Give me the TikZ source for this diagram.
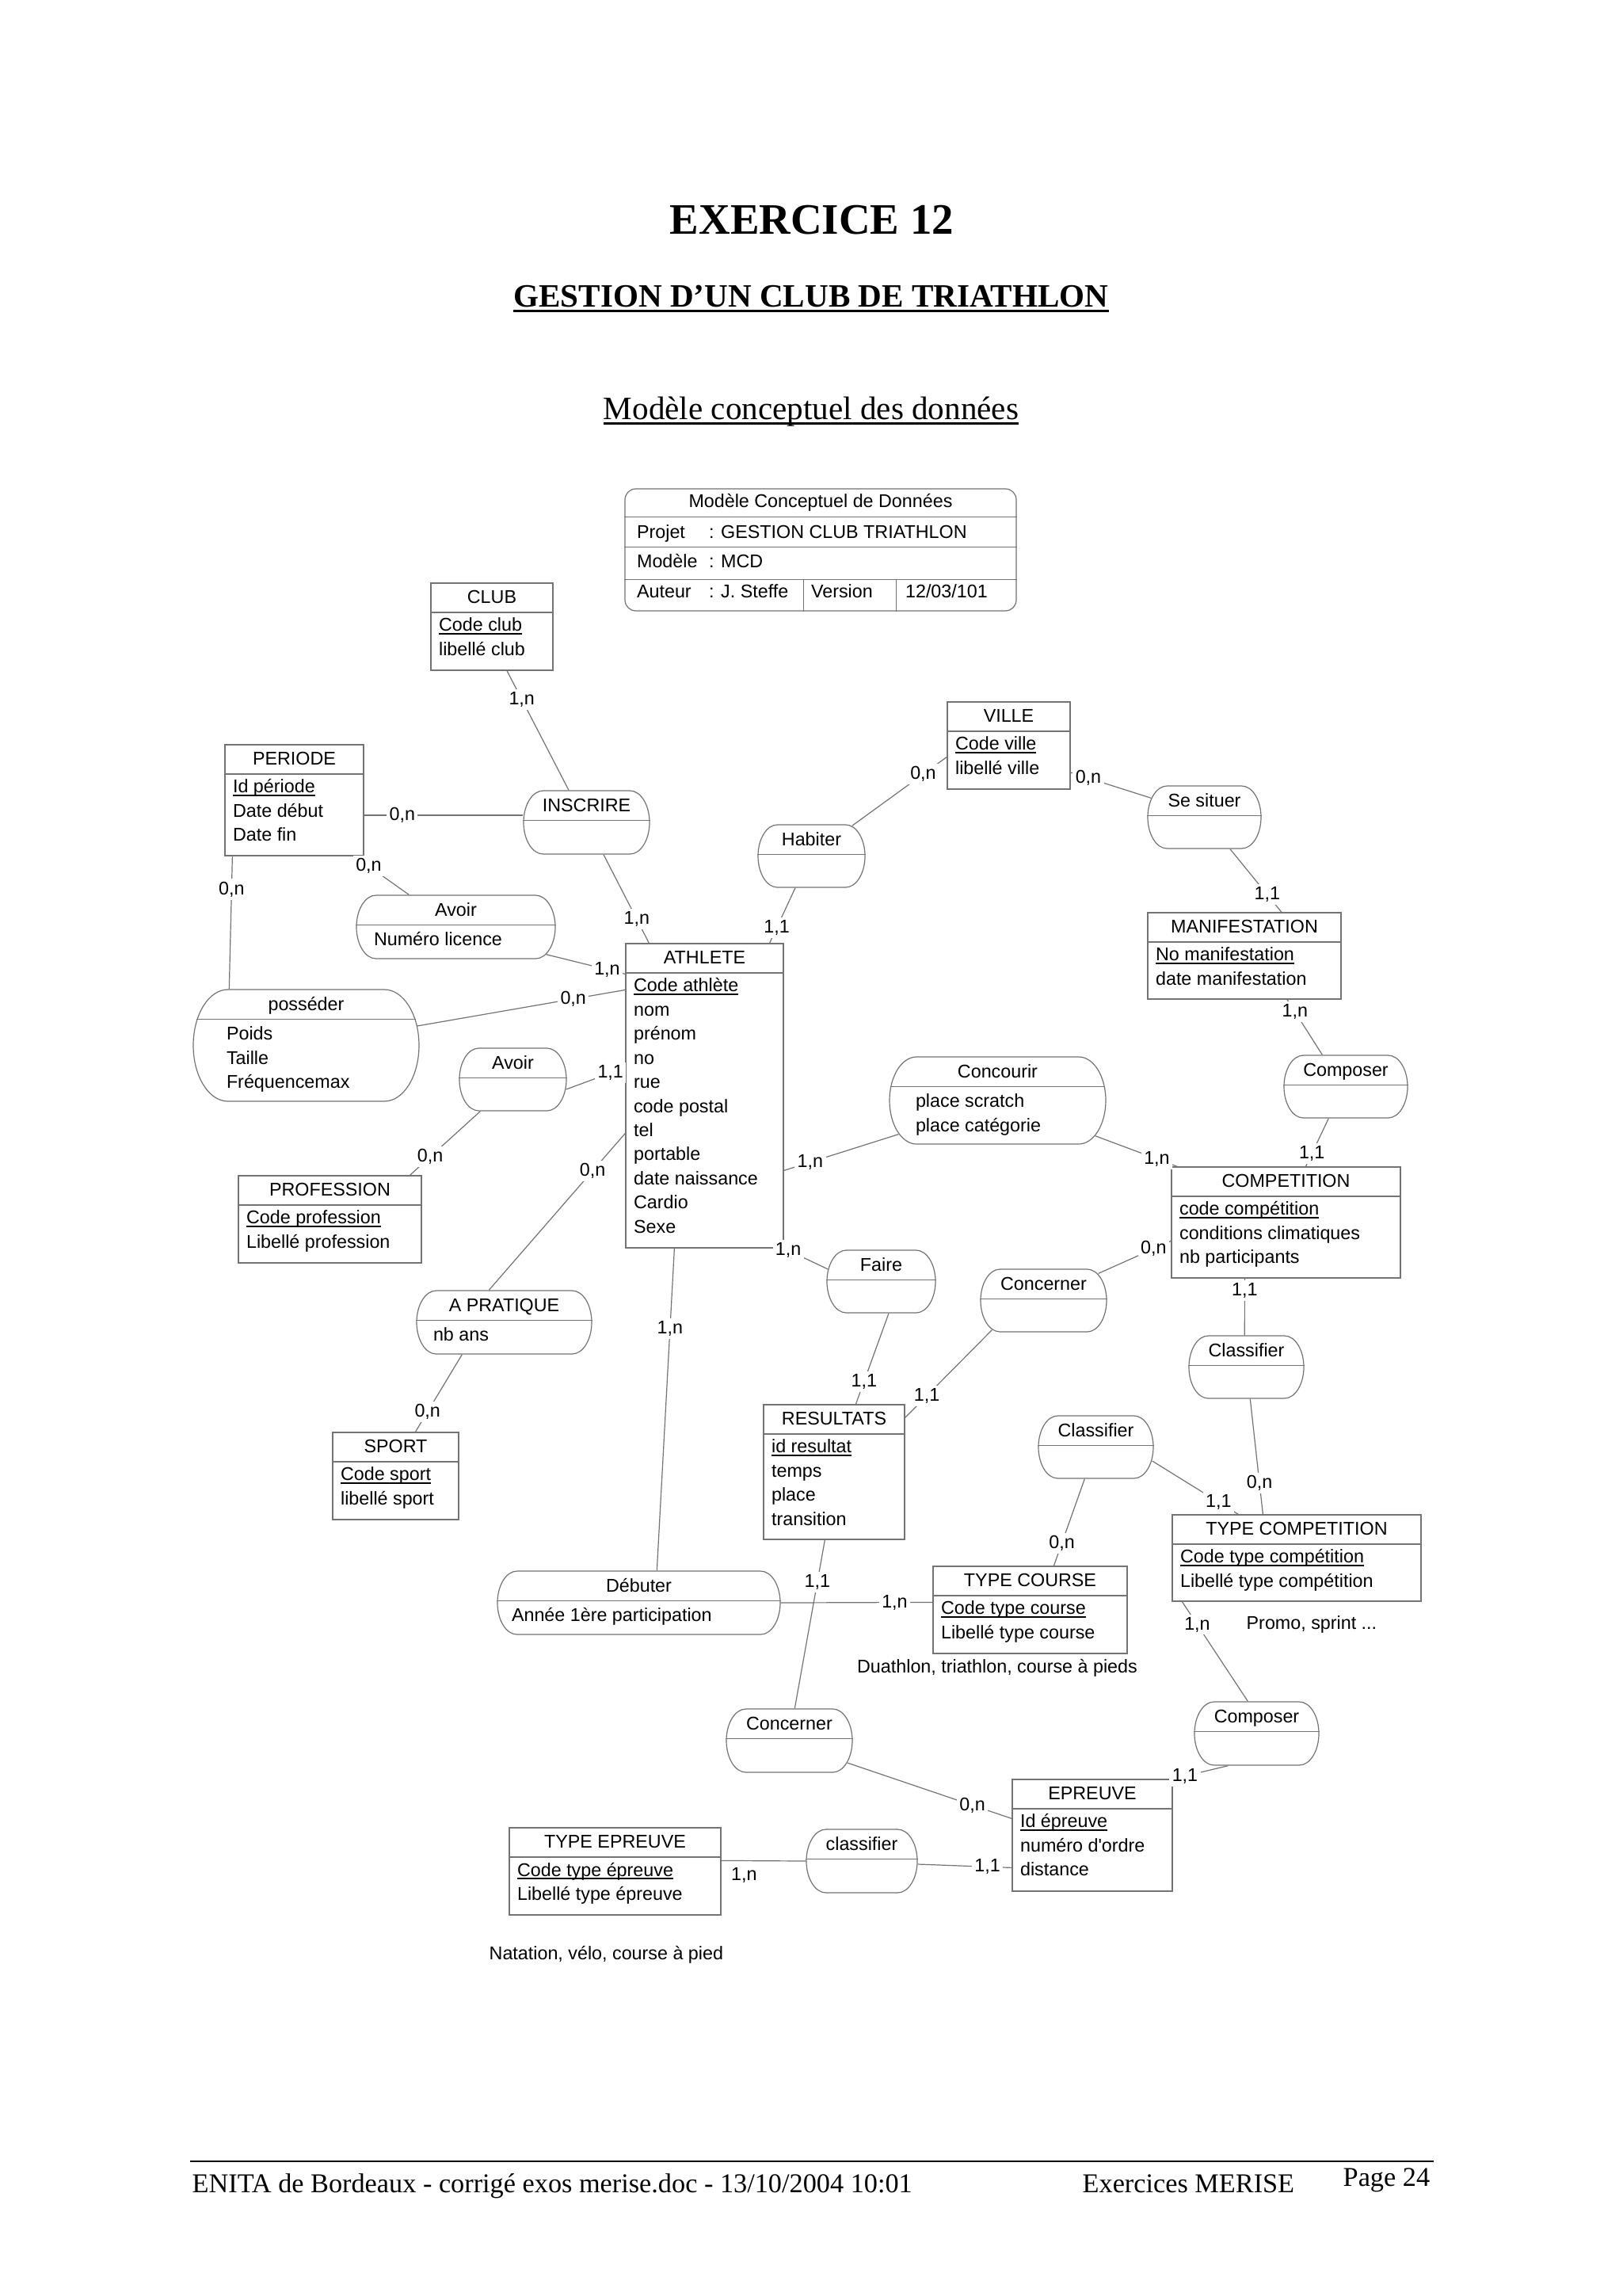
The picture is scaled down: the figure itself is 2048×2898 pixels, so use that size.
\documentclass[tikz,border=0pt]{standalone}
\usepackage{fontspec}
\setmainfont{Liberation Serif}
\setsansfont{Liberation Sans}
\usetikzlibrary{fit}

\newdimen\unitpx \unitpx=0.0102539cm
\newcommand{\diag}{\sffamily\fontsize{6.8}{8.87}\selectfont}
% soulignement a hauteur fixe (identifiants)
\newcommand{\ident}[1]{\leavevmode\setbox0=\hbox{#1}\rlap{\rule[-1.1pt]{\wd0}{0.45pt}}\box0}
\newcommand{\souligne}[1]{\leavevmode\setbox0=\hbox{#1}\rlap{\rule[-1.9pt]{\wd0}{0.7pt}}\box0}

% entite : nom, coin haut gauche, coin bas droit, titre, proprietes
\newcommand{\entite}[5]{%
  \node[entite, fit={#2 #3}] (#1) {};
  \node[titre] (#1-titre) at ([shift={(0,26)}]#1.north) {#4};
  \draw[cadre] ([shift={(0,37.5)}]#1.north west) -- ([shift={(0,37.5)}]#1.north east);
  \node[proprietes] (#1-prop) at ([shift={(10,39.6)}]#1.north west) {\strut#5};
}

% association : decalage, nom, x1, y1, x2, y2, titre, proprietes
\newcommand{\association}[8][20]{%
  \pgfmathsetmacro{\assochaut}{#6-#4}%
  \pgfmathsetmacro{\assocray}{0.31*\assochaut}%
  \pgfmathsetmacro{\assocret}{\assocray*(1-sqrt(1-((\assochaut/2-38)/(\assochaut/2))^2))}%
  \node[assoc, fit={(#3,#4) (#5,#6)}] (#2) {};
  \draw[cadre] ({#3+\assocray},#4) -- ({#5-\assocray},#4)
    arc[start angle=90, end angle=-90, x radius=\assocray*\unitpx, y radius=\assochaut/2*\unitpx]
    -- ({#3+\assocray},#6)
    arc[start angle=270, end angle=90, x radius=\assocray*\unitpx, y radius=\assochaut/2*\unitpx]
    -- cycle;
  \draw[cadre] ([shift={(\assocret,38)}]#2.north west) -- ([shift={(-\assocret,38)}]#2.north east);
  \node[titre] (#2-titre) at ([shift={(0,27)}]#2.north) {#7};
  \node[proprietes] (#2-prop) at ([shift={(#1,42.6)}]#2.north west) {\strut#8};
}

\begin{document}
\begin{tikzpicture}[x=0.0102539cm, y=-0.0102539cm,
    cadre/.style={draw=black!55, line width=0.35pt},
    entite/.style={cadre, inner sep=0pt},
    assoc/.style={inner sep=0pt},
    titre/.style={anchor=base, inner sep=0pt, font=\diag},
    proprietes/.style={anchor=north west, align=left, inner sep=0pt, font=\diag},
    lien/.style={draw=black!55, line width=0.35pt},
    card/.style={fill=white, inner sep=1pt, font=\diag},
    note/.style={inner sep=0pt, font=\diag}]

  \fill[white] (0,0) rectangle (2048,2898);
  \useasboundingbox (0,0) rectangle (2048,2898);

  % en-tete de page
  \node[anchor=base, font=\fontsize{16}{19}\selectfont\bfseries] (exercice) at (1025,295) {EXERCICE 12};
  \node[anchor=base, font=\fontsize{12}{14}\selectfont\bfseries] (sujet) at (1024,387) {\souligne{GESTION D’UN CLUB DE TRIATHLON}};
  \node[anchor=base, font=\fontsize{12}{14}\selectfont] (modele) at (1024,529) {\souligne{Modèle conceptuel des données}};

  % cartouche
  \node[cadre, rounded corners=0.14cm, inner sep=0pt, fit={(789,617) (1283,771)}] (cartouche) {};
  \foreach \dy in {36,74,115}
    \draw[cadre] ([shift={(0,\dy)}]cartouche.north west) -- ([shift={(0,\dy)}]cartouche.north east);
  \foreach \dx in {226,343}
    \draw[cadre] ([shift={(\dx,115)}]cartouche.north west) -- ([shift={(\dx,0)}]cartouche.south west);
  \node[titre] (cartouche-titre) at ([shift={(0,24)}]cartouche.north) {Modèle Conceptuel de Données};
  \node[titre, anchor=base west] (projet) at ([shift={(15,63)}]cartouche.north west) {Projet};
  \node[titre, anchor=base west] (projet-val) at ([shift={(106,63)}]cartouche.north west) {: GESTION CLUB TRIATHLON};
  \node[titre, anchor=base west] (modele-mcd) at ([shift={(15,100)}]cartouche.north west) {Modèle};
  \node[titre, anchor=base west] (modele-val) at ([shift={(106,100)}]cartouche.north west) {: MCD};
  \node[titre, anchor=base west] (auteur) at ([shift={(15,138)}]cartouche.north west) {Auteur};
  \node[titre, anchor=base west] (auteur-val) at ([shift={(106,138)}]cartouche.north west) {: J. Steffe};
  \node[titre, anchor=base west] (version) at ([shift={(235,138)}]cartouche.north west) {Version};
  \node[titre, anchor=base west] (version-val) at ([shift={(354,138)}]cartouche.north west) {12/03/101};

  % entites
  \entite{club}{(544,736)}{(698,846)}{CLUB}{\ident{Code club}\\libellé club}
  \entite{periode}{(284,940)}{(459,1080)}{PERIODE}{\ident{Id période}\\Date début\\Date fin}
  \entite{ville}{(1196,886)}{(1351,996)}{VILLE}{\ident{Code ville}\\libellé ville}
  \entite{manif}{(1449,1152)}{(1693,1261)}{MANIFESTATION}{\ident{No manifestation}\\date manifestation}
  \entite{athlete}{(790,1191)}{(989,1575)}{ATHLETE}{\ident{Code athlète}\\nom\\prénom\\no\\rue\\code postal\\tel\\portable\\date naissance\\Cardio\\Sexe}
  \entite{competition}{(1479,1473)}{(1768,1613)}{COMPETITION}{\ident{code compétition}\\conditions climatiques\\nb participants}
  \entite{profession}{(301,1484)}{(532,1594)}{PROFESSION}{\ident{Code profession}\\Libellé profession}
  \entite{sport}{(420,1808)}{(579,1918)}{SPORT}{\ident{Code sport}\\libellé sport}
  \entite{resultats}{(964,1773)}{(1142,1943)}{RESULTATS}{\ident{id resultat}\\temps\\place\\transition}
  \entite{typecourse}{(1178,1977)}{(1423,2087)}{TYPE COURSE}{\ident{Code type course}\\Libellé type course}
  \entite{typecomp}{(1480,1912)}{(1794,2021)}{TYPE COMPETITION}{\ident{Code type compétition}\\Libellé type compétition}
  \entite{epreuve}{(1278,2246)}{(1480,2387)}{EPREUVE}{\ident{Id épreuve}\\numéro d\textquotesingle ordre\\distance}
  \entite{typeepreuve}{(643,2307)}{(910,2417)}{TYPE EPREUVE}{\ident{Code type épreuve}\\Libellé type épreuve}

  % associations
  \association{inscrire}{661}{998}{820}{1078}{INSCRIRE}{}
  \association[22]{avoirlic}{450}{1130}{701}{1210}{Avoir}{Numéro licence}
  \association{habiter}{957}{1041}{1092}{1120}{Habiter}{}
  \association{sesituer}{1449}{992}{1592}{1071}{Se situer}{}
  \association{composerc}{1621}{1332}{1777}{1411}{Composer}{}
  \association[33]{concourir}{1123}{1334}{1396}{1444}{Concourir}{place scratch\\place catégorie}
  \association[42]{posseder}{244}{1249}{529}{1390}{posséder}{Poids\\Taille\\Fréquencemax}
  \association{avoirpro}{580}{1323}{715}{1402}{Avoir}{}
  \association[21]{apratique}{526}{1629}{747}{1709}{A PRATIQUE}{nb ans}
  \association{faire}{1044}{1578}{1181}{1657}{Faire}{}
  \association{concernerc}{1238}{1602}{1397}{1681}{Concerner}{}
  \association{classifierc}{1501}{1686}{1646}{1765}{Classifier}{}
  \association{classifiert}{1311}{1787}{1456}{1866}{Classifier}{}
  \association[18]{debuter}{628}{1983}{985}{2063}{Débuter}{Année 1ère participation}
  \association{composere}{1508}{2148}{1665}{2228}{Composer}{}
  \association{concernere}{917}{2157}{1076}{2237}{Concerner}{}
  \association{classifierep}{1018}{2309}{1158}{2389}{classifier}{}

  % liens et cardinalites
  \draw[lien] ([shift={(19,0)}]club.south) -- node[card, pos=.24] {1,n} ([shift={(-22.5,0)}]inscrire.north);
  \draw[lien] ([shift={(0,19)}]periode.east) -- node[card, pos=.24] {0,n} ([shift={(0,-9)}]inscrire.west);
  \draw[lien] ([shift={(-12,0)}]periode.south east) -- node[card, pos=.26] {0,n} ([shift={(67,0)}]avoirlic.north west);
  \draw[lien] ([shift={(10,0)}]periode.south west) -- node[card, pos=.25] {0,n} ([shift={(46,0)}]posseder.north west);
  \draw[lien] ([shift={(21.5,0)}]inscrire.south) -- node[card, pos=.73] {1,n} ([shift={(30,0)}]athlete.north west);
  \draw[lien] ([shift={(-12,-6)}]avoirlic.south east) -- node[card, pos=.77] {1,n} ([shift={(0,39)}]athlete.north west);
  \draw[lien] ([shift={(-3,-24.5)}]posseder.east) -- node[card, pos=.75] {0,n} ([shift={(0,59)}]athlete.north west);
  \draw[lien] ([shift={(-1,12.5)}]avoirpro.east) -- node[card, pos=.75] {1,1} ([shift={(0,157)}]athlete.north west);
  \draw[lien] ([shift={(27,0)}]avoirpro.south west) -- node[card, pos=.71] {0,n} ([shift={(217,0)}]profession.north west);
  \draw[lien] ([shift={(0,240)}]athlete.north west) -- node[card, pos=.24] {0,n} ([shift={(92,0)}]apratique.north west);
  \draw[lien] ([shift={(58,0)}]apratique.south west) -- node[card, pos=.74] {0,n} ([shift={(105,0)}]sport.north west);
  \draw[lien] ([shift={(62,0)}]athlete.south west) -- node[card, pos=.25] {1,n} ([shift={(202,0)}]debuter.north west);
  \draw[lien] (debuter.east) -- node[card, pos=.75] {1,n} ([shift={(0,46)}]typecourse.north west);
  \draw[lien] ([shift={(-20.5,0)}]habiter.south) -- node[card, pos=.72] {1,1} ([shift={(-18,0)}]athlete.north east);
  \draw[lien] ([shift={(-17,2)}]habiter.north east) -- node[card, pos=.75] {0,n} ([shift={(0,70)}]ville.north west);
  \draw[lien] ([shift={(0,34)}]ville.east) -- node[card, pos=.22] {0,n} ([shift={(5,16)}]sesituer.north west);
  \draw[lien] ([shift={(32.5,0)}]sesituer.south) -- node[card, pos=.72] {1,1} ([shift={(47,0)}]manif.north);
  \draw[lien] ([shift={(54,0)}]manif.south) -- node[card, pos=.22] {1,n} ([shift={(49,0)}]composerc.north west);
  \draw[lien] ([shift={(57,0)}]composerc.south west) -- node[card, pos=.73] {1,1} ([shift={(170,0)}]competition.north west);
  \draw[lien] ([shift={(0,287)}]athlete.north east) -- node[card, pos=.23] {1,n} ([shift={(12,-13)}]concourir.south west);
  \draw[lien] ([shift={(-14,-11)}]concourir.south east) -- node[card, pos=.75] {1,n} ([shift={(8,0)}]competition.north west);
  \draw[lien] ([shift={(-11,6)}]concernerc.north east) -- node[card, pos=.76] {0,n} ([shift={(0,94)}]competition.north west);
  \draw[lien] ([shift={(15,-3)}]concernerc.south west) -- node[card, pos=.75] {1,1} ([shift={(0,17)}]resultats.north east);
  \draw[lien] (athlete.south east) -- node[card, pos=.1] {1,n} ([shift={(2,-15.5)}]faire.west);
  \draw[lien] ([shift={(9.5,0)}]faire.south) -- node[card, pos=.75] {1,1} ([shift={(117,0)}]resultats.north west);
  \draw[lien] ([shift={(78,0)}]resultats.south west) -- node[card, pos=.25] {1,1} ([shift={(87,0)}]concernere.north west);
  \draw[lien] ([shift={(59,0)}]classifiert.south west) -- node[card, pos=.74] {0,n} ([shift={(153,0)}]typecourse.north west);
  \draw[lien] ([shift={(-2,17.5)}]classifiert.east) -- node[card, pos=.77] {1,1} ([shift={(84,0)}]typecomp.north west);
  \draw[lien] ([shift={(93,0)}]competition.south west) -- node[card, pos=.22] {1,1} ([shift={(71,0)}]classifierc.north west);
  \draw[lien] ([shift={(78,0)}]classifierc.south west) -- node[card, pos=.73] {0,n} ([shift={(115,0)}]typecomp.north west);
  \draw[lien] ([shift={(13,0)}]typecomp.south west) -- node[card, pos=.23] {1,n} ([shift={(68,0)}]composere.north west);
  \draw[lien] ([shift={(43,0)}]composere.south west) -- node[card, pos=.78] {1,1} (epreuve.north east);
  \draw[lien] ([shift={(-7,28)}]concernere.east) -- node[card, pos=.76] {0,n} ([shift={(0,50)}]epreuve.north west);
  \draw[lien] ([shift={(0,4)}]classifierep.east) -- node[card, pos=.74] {1,1} ([shift={(0,112)}]epreuve.north west);
  \draw[lien] ([shift={(0,42)}]typeepreuve.north east) -- node[card, pos=.27, shift={(0,18)}] {1,n} (classifierep.west);

  % commentaires
  \node[note] (note-course) at (1259,2105) {Duathlon, triathlon, course à pieds};
  \node[note, anchor=west] (note-competition) at (1573,2050) {Promo, sprint ...};
  \node[note, anchor=west] (note-epreuve) at (617,2467) {Natation, vélo, course à pied};

  % pied de page
  \coordinate (pied-g) at (240,2728);
  \coordinate (pied-d) at (1810,2728);
  \draw[line width=0.8pt] (pied-g) -- (pied-d);
  \node[anchor=base west, inner sep=0pt, font=\fontsize{10}{12}\selectfont] (pied-doc) at (242,2767) {ENITA de Bordeaux - corrigé exos merise.doc - 13/10/2004 10:01};
  \node[anchor=base west, inner sep=0pt, font=\fontsize{10}{12}\selectfont] (pied-merise) at (1366,2767) {Exercices MERISE};
  \node[anchor=base west, inner sep=0pt, font=\fontsize{10}{12}\selectfont] (pied-page) at (1695,2759) {Page 24};
\end{tikzpicture}
\end{document}
